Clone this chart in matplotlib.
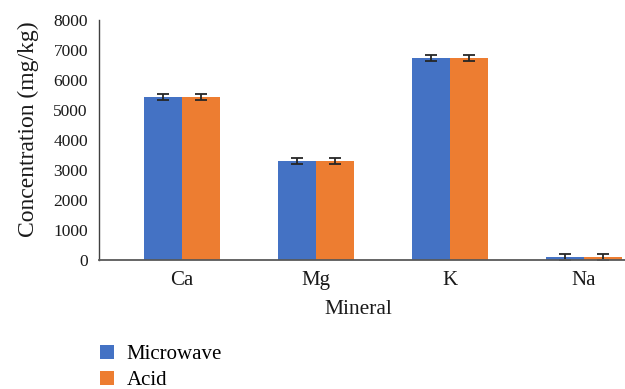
import matplotlib.pyplot as plt
import numpy as np

minerals = ['Ca', 'Mg', 'K', 'Na']
microwave = [5420, 3300, 6720, 110]
acid = [5420, 3300, 6720, 110]
microwave_err = [100, 100, 100, 100]
acid_err = [100, 100, 100, 100]

plt.rcParams['font.family'] = ['Liberation Serif', 'DejaVu Serif']

fig = plt.figure(figsize=(6.25, 3.89), dpi=100)
ax = fig.add_axes([99/625, 1 - 260/389, 1 - 99/625, 240/389])

x = np.arange(len(minerals))
w = 0.285
ax.bar(x - w/2, microwave, w, color='#4472C4', label='Microwave',
       yerr=microwave_err, error_kw=dict(ecolor='#262626', elinewidth=1.3, capsize=4, capthick=1.3))
ax.bar(x + w/2, acid, w, color='#ED7D31', label='Acid',
       yerr=acid_err, error_kw=dict(ecolor='#262626', elinewidth=1.3, capsize=4, capthick=1.3))

ax.set_xlim(-0.62, 3.306)
ax.set_ylim(0, 8000)
ax.set_yticks(range(0, 8001, 1000))
ax.set_xticks(x)
ax.set_xticklabels(minerals)
ax.tick_params(axis='both', length=0, colors='#1a1a1a')
ax.tick_params(axis='x', pad=8, labelsize=15)
ax.tick_params(axis='y', pad=8, labelsize=12.5)

for s in ['top', 'right']:
    ax.spines[s].set_visible(False)
ax.spines['left'].set_color('#404040')
ax.spines['bottom'].set_color('#595959')
ax.spines['left'].set_linewidth(1.0)
ax.spines['bottom'].set_linewidth(1.3)

ax.set_ylabel('Concentration (mg/kg)', fontsize=17, color='#1a1a1a', labelpad=10)
ax.yaxis.label.set_y(0.545)
fig.text(358/625, 1 - 309/389, 'Mineral', fontsize=15.5, ha='center', va='center', color='#1a1a1a')

handles, labels = ax.get_legend_handles_labels()
fig.legend(handles, labels, loc='upper left', bbox_to_anchor=(81/625, 1 - 326/389),
           frameon=False, fontsize=15, handlelength=0.7, handleheight=0.7,
           labelspacing=0.3, handletextpad=0.6)

fig.savefig('out.png', dpi=100)
